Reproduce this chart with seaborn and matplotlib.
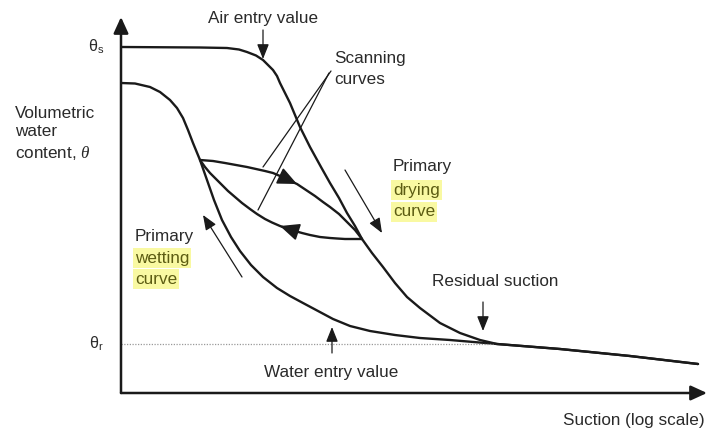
import numpy as np
import pandas as pd
import matplotlib
matplotlib.use("Agg")
import matplotlib.pyplot as plt
import seaborn as sns

# ==========================================
# Curve data (suction position along the log axis, volumetric water content)
# ==========================================
drying_x = [0, 79, 106, 118, 126, 135, 142, 147, 152, 156, 159, 164, 169, 174, 179,
            189, 200, 209, 218, 226, 234, 241, 251, 262, 274, 286, 299, 319, 339,
            359, 376, 439, 509, 577]
drying_theta = [346, 345.5, 345, 343.5, 341, 337.5, 333, 328, 323, 317, 310, 300, 290,
                278, 266, 246, 226, 210, 195, 180, 167, 154, 140, 126, 110, 96, 85,
                70, 60, 53, 49, 44, 37, 29]

wetting_x = [0, 14, 29, 39, 49, 56, 62, 67, 72, 79, 86, 93, 101, 110, 119, 130,
             142, 156, 169, 182, 197, 212, 229, 249, 274, 299, 329, 376, 439, 509, 577]
wetting_theta = [310, 309.5, 306, 301, 293, 285, 275, 263, 250, 233, 213, 193, 173,
                 156, 142, 128, 116, 105, 97, 90, 82, 74, 67, 62, 58, 55, 53, 49,
                 44, 37, 29]

# scanning curves: drying branch (left -> right) and wetting branch (right -> left)
scan_dry_x = [79, 92, 104, 115, 126, 135, 144, 152, 159, 167, 176, 185, 194, 202,
              209, 218, 226, 234, 241]
scan_dry_theta = [233, 232, 230, 228, 226, 224, 222, 220, 217, 213, 209, 203, 197,
                  191, 186, 179, 171, 163, 154]
scan_wet_x = [241, 232, 224, 216, 209, 199, 189, 181, 174, 166, 159, 151, 144, 136,
              129, 121, 114, 107, 101, 95, 89, 84, 79]
scan_wet_theta = [154, 154, 154, 154.5, 155, 156, 158, 160, 162, 164.5, 167, 170.5,
                  174, 179, 184, 190, 196, 202, 208, 214, 220, 226, 233]

theta_s = 346
theta_r = 49
x_max, y_max = 586, 376

INK = "#1a1a1a"
TEXT = "#2a2a2a"
HL_BG = "#f9f9a2"
HL_FG = "#5c5c12"


def main():
    sns.set_theme(style="white")
    plt.rcParams["font.family"] = ["Liberation Sans", "DejaVu Sans"]
    plt.rcParams["mathtext.fontset"] = "custom"
    plt.rcParams["mathtext.it"] = "Liberation Serif:italic"
    plt.rcParams["mathtext.rm"] = "Liberation Sans"

    fig = plt.figure(figsize=(7.07, 4.29), dpi=100)
    ax = fig.add_axes([121 / 707, 36 / 429, 586 / 707, 376 / 429])

    curves = [
        (drying_x, drying_theta, "drying"),
        (wetting_x, wetting_theta, "wetting"),
        (scan_dry_x, scan_dry_theta, "scan_dry"),
        (scan_wet_x, scan_wet_theta, "scan_wet"),
    ]
    for xs, ys, name in curves:
        df = pd.DataFrame({"x": xs, "theta": ys})
        line = sns.lineplot(data=df, x="x", y="theta", sort=False, color=INK, lw=1.7, ax=ax)
    for ln in ax.lines:
        ln.set_solid_joinstyle("round")

    # filled arrowheads on scanning curves
    big_head = dict(arrowstyle="-|>,head_length=0.85,head_width=0.38", color=INK,
                    lw=1.2, shrinkA=0, shrinkB=0, mutation_scale=14)
    ax.annotate("", xy=(scan_dry_x[10], scan_dry_theta[10]),
                xytext=(scan_dry_x[8], scan_dry_theta[8]), arrowprops=big_head)
    ax.annotate("", xy=(scan_wet_x[10], scan_wet_theta[10]),
                xytext=(scan_wet_x[8], scan_wet_theta[8]), arrowprops=big_head)

    # residual water content dotted line
    ax.plot([0, 372], [theta_r, theta_r], ls=(0, (1, 1.2)), color="#9a9a9a", lw=0.9)

    # axes with arrows
    ax.set_xlim(0, x_max)
    ax.set_ylim(0, y_max)
    for s in ax.spines.values():
        s.set_visible(False)
    ax.set_xticks([])
    ax.set_yticks([])
    ax.set_xlabel("")
    ax.set_ylabel("")
    axis_arrow = dict(arrowstyle="-|>,head_length=0.7,head_width=0.32", color=INK,
                      lw=1.8, shrinkA=0, shrinkB=0, mutation_scale=14)
    ax.annotate("", xy=(0, y_max), xytext=(0, 0), arrowprops=axis_arrow,
                annotation_clip=False)
    ax.annotate("", xy=(x_max, 0), xytext=(0, 0), arrowprops=axis_arrow,
                annotation_clip=False)

    # small pointer arrows
    thin = dict(arrowstyle="-|>,head_length=0.75,head_width=0.3", color=INK,
                lw=0.9, shrinkA=0, shrinkB=0, mutation_scale=12)
    ax.annotate("", xy=(142, 334), xytext=(142, 363), arrowprops=thin)      # air entry
    ax.annotate("", xy=(362, 62), xytext=(362, 91), arrowprops=thin)        # residual
    ax.annotate("", xy=(211, 66), xytext=(211, 40), arrowprops=thin)        # water entry
    ax.annotate("", xy=(261, 160), xytext=(224, 223), arrowprops=thin)      # drying dir
    ax.annotate("", xy=(82, 178), xytext=(121, 116), arrowprops=thin)       # wetting dir
    # pointer lines to scanning curves
    ax.plot([210, 142], [322, 226], color=INK, lw=0.9)
    ax.plot([208, 137], [320, 183], color=INK, lw=0.9)

    fs = 12.3
    ax.text(142, 374, "Air entry value", ha="center", va="center", fontsize=fs, color=TEXT)
    ax.text(213, 334, "Scanning", ha="left", va="center", fontsize=fs, color=TEXT)
    ax.text(213, 313, "curves", ha="left", va="center", fontsize=fs, color=TEXT)
    ax.text(-17, theta_s, r"θ$_\mathregular{s}$", ha="right", va="center", fontsize=11.5,
            color=TEXT)
    ax.text(-17, theta_r, r"θ$_\mathregular{r}$", ha="right", va="center", fontsize=11.5,
            color=TEXT)
    ax.text(-106, 280, "Volumetric", ha="left", va="center", fontsize=fs, color=TEXT)
    ax.text(-106, 261, "water", ha="left", va="center", fontsize=fs, color=TEXT)
    ax.text(-106, 240, r"content, $\mathit{\theta}$", ha="left", va="center",
            fontsize=fs, color=TEXT)

    hl_box = dict(boxstyle="square,pad=0.12", fc=HL_BG, ec="none")
    # primary drying curve label
    ax.text(272, 226, "Primary", ha="left", va="center", fontsize=fs, color=TEXT)
    ax.text(272, 203, "drying", ha="left", va="center", fontsize=fs, color=HL_FG, bbox=hl_box)
    ax.text(272, 181, "curve", ha="left", va="center", fontsize=fs, color=HL_FG, bbox=hl_box)
    # primary wetting curve label
    ax.text(14, 157, "Primary", ha="left", va="center", fontsize=fs, color=TEXT)
    ax.text(14, 135, "wetting", ha="left", va="center", fontsize=fs, color=HL_FG, bbox=hl_box)
    ax.text(14, 114, "curve", ha="left", va="center", fontsize=fs, color=HL_FG, bbox=hl_box)

    ax.text(374, 111, "Residual suction", ha="center", va="center", fontsize=fs, color=TEXT)
    ax.text(210, 21, "Water entry value", ha="center", va="center", fontsize=fs, color=TEXT)
    ax.text(584, -27, "Suction (log scale)", ha="right", va="center", fontsize=fs, color=TEXT)

    fig.savefig("out.png", dpi=100, facecolor="white")


if __name__ == "__main__":
    main()
